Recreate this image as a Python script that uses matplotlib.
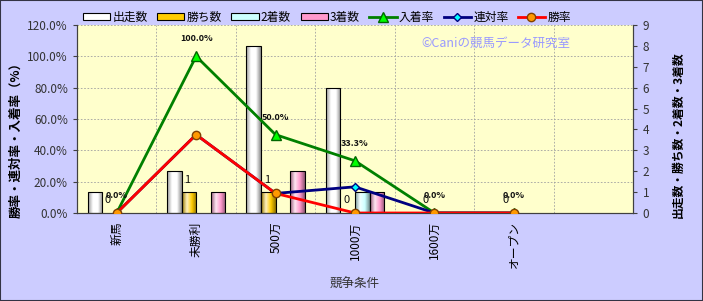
import matplotlib
matplotlib.use("agg")

import numpy as np
import matplotlib.pyplot as plt
from matplotlib.colors import LinearSegmentedColormap, to_rgb
from matplotlib.patches import Patch, Rectangle

plt.rcParams["font.family"] = ["Noto Sans CJK JP", "DejaVu Sans"]

# Data
categories = ["新馬", "未勝利", "500万", "1000万", "1600万", "オープン", ""]
starts = [1, 2, 8, 6, 0, 0]
wins = [0, 1, 1, 0, 0, 0]
seconds = [0, 0, 0, 1, 0, 0]
thirds = [0, 1, 2, 1, 0, 0]
place_rate = [0.0, 100.0, 50.0, 33.3, 0.0, 0.0]
quinella_rate = [0.0, 50.0, 12.5, 16.7, 0.0, 0.0]
win_rate = [0.0, 50.0, 12.5, 0.0, 0.0, 0.0]
pct_ticks = [0, 20, 40, 60, 80, 100, 120]
count_ticks = list(range(10))


def cylinder(ax, bars, color):
    # fake Excel's cylinder shading with a clipped gradient image
    base = np.array(to_rgb(color))
    cmap = LinearSegmentedColormap.from_list(
        "cyl", [base * 0.6, base + (1 - base) * 0.75, base, base * 0.55])
    grad = np.linspace(0, 1, 64).reshape(1, -1)
    for bar in bars:
        x0, y0 = bar.get_x(), bar.get_y()
        x1, y1 = x0 + bar.get_width(), y0 + bar.get_height()
        if y1 <= y0:
            bar.set_visible(False)
            continue
        im = ax.imshow(grad, cmap=cmap, extent=(x0, x1, y0, y1),
                       aspect="auto", zorder=1.2, interpolation="bilinear")
        im.set_clip_path(bar)
        bar.set_facecolor("none")
        bar.set_zorder(1.5)


fig = plt.figure(figsize=(7.03, 3.01), dpi=100, facecolor="#CCCCFF")
fig.patches.append(Rectangle((0, 0), 1, 1, transform=fig.transFigure,
                             fill=False, edgecolor="#333344", lw=1.5))

ax = fig.add_axes([0.1095, 0.2924, 0.7909, 0.6246])
ax2 = ax.twinx()
ax.set_zorder(ax2.get_zorder() + 1)
ax.patch.set_visible(False)
ax2.patch.set_visible(True)
ax2.set_facecolor("#FFFFCC")

ax.set_xlim(-0.5, len(categories) - 0.5)
ax.set_ylim(0, 120)
ax2.set_ylim(0, 9)

# grid behind the bars
grid_kw = dict(color="#A0A0A0", lw=0.6, dashes=(2, 2), zorder=0.5)
for t in pct_ticks[1:]:
    ax2.axhline(t * 9 / 120, **grid_kw)
for b in np.arange(1, len(categories)) - 0.5:
    ax2.axvline(b, **grid_kw)

# bars on the count axis
x = np.arange(len(starts))
w = 0.183
series = [(starts, "出走数", "#FFFFFF"), (wins, "勝ち数", "#FFCC00"),
          (seconds, "2着数", "#CCFFFF"), (thirds, "3着数", "#FF99CC")]
handles = []
for i, (vals, name, col) in enumerate(series):
    bars = ax2.bar(x + (i - 1.5) * w, vals, w, edgecolor="black", lw=0.8,
                   color=col)
    cylinder(ax2, bars, col)
    handles.append(Patch(facecolor=col, edgecolor="black", lw=0.8, label=name))
ax2.set_xlim(-0.5, len(categories) - 0.5)
ax2.set_ylim(0, 9)

for xi, v in zip(x, wins):
    ax2.annotate(str(v), (xi - 0.5 * w, v), xytext=(-1, 9),
                 textcoords="offset points", ha="center", va="center",
                 fontsize=8, color="#111111")

# rate lines on the percent axis
xl = np.arange(len(win_rate))
l1, = ax.plot(xl, place_rate, color="#008000", lw=2, marker="^", ms=7.5,
              mfc="#00FF00", mec="#006600", label="入着率", zorder=3)
l2, = ax.plot(xl, quinella_rate, color="#000080", lw=2, marker="D", ms=4.5,
              mfc="#00FFFF", mec="#000080", label="連対率", zorder=4)
l3, = ax.plot(xl, win_rate, color="#FF0000", lw=2, marker="o", ms=6,
              mfc="#FF9900", mec="#804000", label="勝率", zorder=5)
handles += [l1, l2, l3]

for xi, v in zip(xl, place_rate):
    ax.annotate(f"{v:.1f}%", (xi, v), xytext=(0, 12.5),
                textcoords="offset points", ha="center", va="center",
                fontsize=6.5, weight="bold", color="#111111")

ax.text(0.754, 0.904, "©Caniの競馬データ研究室", transform=ax.transAxes,
        color="#9999FF", fontsize=9, ha="center", va="center")

# axes cosmetics
ax.set_yticks(pct_ticks)
ax.set_yticklabels([f"{t:.1f}%" for t in pct_ticks])
ax2.set_yticks(count_ticks)
ax.set_xticks(np.arange(len(categories)))
ax.set_xticklabels(categories, rotation=90, fontsize=8.5)
ax.tick_params(axis="x", length=0, pad=6)
ax.tick_params(axis="y", labelsize=8.5, labelcolor="#333333", length=3,
               color="#404040")
ax2.tick_params(axis="y", labelsize=8.5, labelcolor="#333333", length=3,
                color="#404040", pad=4)
for sp in ["left", "bottom", "right"]:
    ax.spines[sp].set_color("#404040")
    ax2.spines[sp].set_color("#404040")
ax.spines["top"].set_visible(False)
ax2.spines["top"].set_visible(False)

ax.set_xlabel("競争条件", fontsize=9, color="#333333", labelpad=7)
fig.text(0.022, 1 - 137 / 301, "勝率・連対率・入着率（%）", rotation=90,
         ha="center", va="center", fontsize=9, weight="bold")
fig.text(0.964, 1 - 135 / 301, "出走数・勝ち数・2着数・3着数", rotation=90,
         ha="center", va="center", fontsize=8.5, weight="bold")

fig.legend(handles=handles, loc="center left", ncol=7,
           bbox_to_anchor=(83 / 703, 1 - 17 / 301), frameon=False,
           fontsize=8.5, handlelength=2.3, handleheight=0.6,
           handletextpad=0.2, columnspacing=0.8, borderaxespad=0,
           borderpad=0)

fig.savefig("out.png", dpi=100, facecolor=fig.get_facecolor())
